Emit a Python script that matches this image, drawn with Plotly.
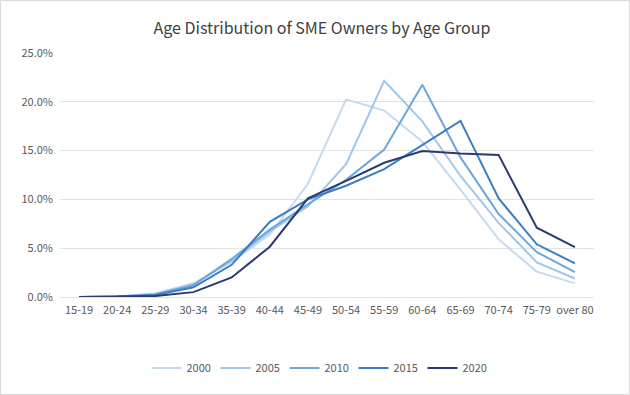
import plotly.graph_objects as go

categories = ["15-19", "20-24", "25-29", "30-34", "35-39", "40-44", "45-49",
              "50-54", "55-59", "60-64", "65-69", "70-74", "75-79", "over 80"]

y2000 = [0.0, 0.05, 0.35, 1.4, 3.6, 6.4, 11.6, 20.25, 19.1, 15.9, 11.0, 5.9, 2.6, 1.4]
y2005 = [0.0, 0.05, 0.3, 1.3, 3.7, 6.7, 9.3, 13.6, 22.15, 18.0, 12.4, 7.6, 3.55, 1.9]
y2010 = [0.0, 0.05, 0.25, 1.2, 3.9, 6.9, 9.5, 12.0, 15.1, 21.75, 14.3, 8.5, 4.6, 2.55]
y2015 = [0.0, 0.03, 0.2, 1.0, 3.3, 7.7, 10.0, 11.4, 13.1, 15.6, 18.05, 10.1, 5.4, 3.45]
y2020 = [0.0, 0.02, 0.1, 0.5, 2.0, 5.15, 10.1, 11.9, 13.75, 14.95, 14.7, 14.55, 7.1, 5.1]

series_names = ["2000", "2005", "2010", "2015", "2020"]
series_values = [y2000, y2005, y2010, y2015, y2020]
colors = ["#C5DAF0", "#A2C6EA", "#6EA6DC", "#3B7DC2", "#2A3A72"]

FONT = "Noto Sans CJK JP"

fig = go.Figure()
for name, vals, col in zip(series_names, series_values, colors):
    fig.add_trace(go.Scatter(
        x=categories, y=[v / 100 for v in vals], name=name, mode="lines",
        line=dict(color=col, width=2),
    ))

W, H = 630, 395
ml, mr, mt, mb = 60, 36, 53, 98
pw, ph = W - ml - mr, H - mt - mb

fig.update_layout(
    width=W, height=H,
    margin=dict(l=ml, r=mr, t=mt, b=mb),
    paper_bgcolor="white", plot_bgcolor="white",
    font=dict(family=FONT, size=11, color="#595959"),
    title=dict(text="Age Distribution of SME Owners by Age Group",
               x=322 / W, xref="container", xanchor="center",
               y=1 - 28 / H, yref="container", yanchor="middle",
               font=dict(family=FONT, size=16, color="#404040")),
    showlegend=True,
    legend=dict(orientation="h", x=319 / W, xref="container", xanchor="center",
                y=1 - 368 / H, yref="container", yanchor="middle",
                font=dict(family=FONT, size=11, color="#595959"),
                bgcolor="rgba(0,0,0,0)", entrywidth=24, tracegroupgap=0),
    xaxis=dict(type="category", showgrid=False, showline=False, ticks="",
               range=[-0.5, len(categories) - 0.5], tickfont=dict(size=11),
               ticklabelstandoff=5),
    yaxis=dict(range=[0, 0.25], dtick=0.05, tickformat=".1%", showgrid=True,
               gridcolor="#E3E3E3", gridwidth=1, zeroline=True, zerolinecolor="#E3E3E3",
               zerolinewidth=1, showline=False, ticks="", tickfont=dict(size=11),
               ticklabelstandoff=6),
    shapes=[dict(type="rect", xref="paper", yref="paper",
                 x0=(-ml + 0.5) / pw, x1=(pw + mr - 0.5) / pw,
                 y0=(-mb + 0.5) / ph, y1=(ph + mt - 0.5) / ph,
                 line=dict(color="#D9D9D9", width=1), layer="below")],
)

fig.write_html("out.html", config={"displayModeBar": False},
               post_script="document.body.style.margin='0';document.body.style.overflow='hidden';")
